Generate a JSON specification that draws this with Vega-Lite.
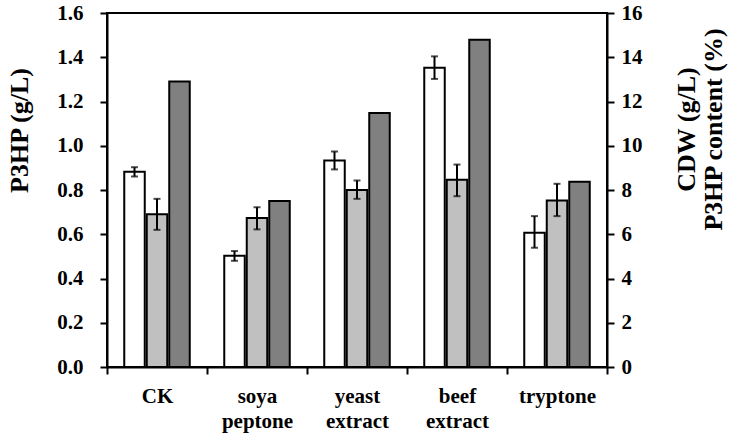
{
  "$schema": "https://vega.github.io/schema/vega-lite/v6.json",
  "autosize": {"type": "none"},
  "padding": {"left": 107, "top": 13, "right": 126, "bottom": 73},
  "width": 500,
  "height": 354,
  "background": "white",
  "data": {
    "values": [
      {"cat": "CK", "series": "P3HP", "value": 0.882, "lo": 0.861, "hi": 0.903},
      {"cat": "CK", "series": "CDW", "value": 6.9, "lo": 6.2, "hi": 7.6},
      {"cat": "CK", "series": "content", "value": 12.9},
      {"cat": "soya peptone", "series": "P3HP", "value": 0.503, "lo": 0.48, "hi": 0.524},
      {"cat": "soya peptone", "series": "CDW", "value": 6.73, "lo": 6.22, "hi": 7.22},
      {"cat": "soya peptone", "series": "content", "value": 7.5},
      {"cat": "yeast extract", "series": "P3HP", "value": 0.933, "lo": 0.893, "hi": 0.974},
      {"cat": "yeast extract", "series": "CDW", "value": 8.0, "lo": 7.6, "hi": 8.43},
      {"cat": "yeast extract", "series": "content", "value": 11.48},
      {"cat": "beef extract", "series": "P3HP", "value": 1.352, "lo": 1.302, "hi": 1.404},
      {"cat": "beef extract", "series": "CDW", "value": 8.46, "lo": 7.72, "hi": 9.15},
      {"cat": "beef extract", "series": "content", "value": 14.79},
      {"cat": "tryptone", "series": "P3HP", "value": 0.607, "lo": 0.539, "hi": 0.682},
      {"cat": "tryptone", "series": "CDW", "value": 7.53, "lo": 6.82, "hi": 8.28},
      {"cat": "tryptone", "series": "content", "value": 8.37}
    ]
  },
  "encoding": {
    "x": {
      "field": "cat", "type": "nominal",
      "sort": ["CK", "soya peptone", "yeast extract", "beef extract", "tryptone"],
      "scale": {"paddingInner": 0, "paddingOuter": 0},
      "axis": {
        "title": null, "labelAngle": 0, "tickBand": "extent", "tickSize": 7,
        "labelPadding": 11, "labelLineHeight": 25, "labelBaseline": "top",
        "labelExpr": "split(datum.label, ' ')"
      }
    },
    "xOffset": {
      "field": "series", "type": "nominal",
      "scale": {"domain": ["P3HP", "CDW", "content"], "paddingInner": 0.089, "paddingOuter": 0.767}
    }
  },
  "layer": [
    {
      "transform": [{"filter": "datum.series == 'P3HP'"}],
      "layer": [
        {
          "mark": {"type": "bar", "stroke": "black", "strokeWidth": 2},
          "encoding": {
            "y": {
              "field": "value", "type": "quantitative",
              "scale": {"domain": [0, 1.6], "nice": false, "zero": true},
              "axis": {
                "orient": "left", "title": "P3HP (g/L)",
                "values": [0, 0.1, 0.2, 0.3, 0.4, 0.5, 0.6, 0.7, 0.8, 0.9, 1.0, 1.1, 1.2, 1.3, 1.4, 1.5, 1.6],
                "labelExpr": "round(datum.value * 10) % 2 == 0 ? format(datum.value, '.1f') : ''",
                "tickSize": 7, "labelPadding": 17,
                "titleAngle": -90, "titleX": -80, "titleY": 117, "titleAlign": "center", "titleBaseline": "alphabetic",
                "titleFontSize": 26
              }
            },
            "fill": {
              "field": "series", "type": "nominal",
              "scale": {"domain": ["P3HP", "CDW", "content"], "range": ["#ffffff", "#c0c0c0", "#808080"]},
              "legend": null
            }
          }
        },
        {
          "mark": {"type": "rule", "color": "black", "strokeWidth": 2},
          "encoding": {
            "y": {"field": "lo", "type": "quantitative"},
            "y2": {"field": "hi"}
          }
        },
        {
          "mark": {"type": "tick", "color": "black", "thickness": 2, "size": 7},
          "encoding": {"y": {"field": "lo", "type": "quantitative"}}
        },
        {
          "mark": {"type": "tick", "color": "black", "thickness": 2, "size": 7},
          "encoding": {"y": {"field": "hi", "type": "quantitative"}}
        }
      ]
    },
    {
      "transform": [{"filter": "datum.series != 'P3HP'"}],
      "layer": [
        {
          "mark": {"type": "bar", "stroke": "black", "strokeWidth": 2},
          "encoding": {
            "y": {
              "field": "value", "type": "quantitative",
              "scale": {"domain": [0, 16], "nice": false, "zero": true},
              "axis": {
                "orient": "right", "title": ["CDW (g/L)", "P3HP content (%)"],
                "values": [0, 2, 4, 6, 8, 10, 12, 14, 16], "format": "d",
                "tickSize": 7, "labelPadding": 7,
                "titleAngle": -90, "titleX": 87, "titleY": 116, "titleAlign": "center", "titleBaseline": "alphabetic",
                "titleLineHeight": 27, "titleFontSize": 26
              }
            },
            "fill": {
              "field": "series", "type": "nominal",
              "scale": {"domain": ["P3HP", "CDW", "content"], "range": ["#ffffff", "#c0c0c0", "#808080"]},
              "legend": null
            }
          }
        },
        {
          "transform": [{"filter": "isValid(datum.lo)"}],
          "mark": {"type": "rule", "color": "black", "strokeWidth": 2},
          "encoding": {
            "y": {"field": "lo", "type": "quantitative"},
            "y2": {"field": "hi"}
          }
        },
        {
          "transform": [{"filter": "isValid(datum.lo)"}],
          "mark": {"type": "tick", "color": "black", "thickness": 2, "size": 7},
          "encoding": {"y": {"field": "lo", "type": "quantitative"}}
        },
        {
          "transform": [{"filter": "isValid(datum.hi)"}],
          "mark": {"type": "tick", "color": "black", "thickness": 2, "size": 7},
          "encoding": {"y": {"field": "hi", "type": "quantitative"}}
        }
      ]
    }
  ],
  "resolve": {"scale": {"y": "independent"}},
  "config": {
    "font": "Liberation Serif",
    "view": {"stroke": "black", "strokeWidth": 2},
    "axis": {
      "grid": false,
      "domainColor": "black", "domainWidth": 2,
      "tickColor": "black", "tickWidth": 2,
      "labelFont": "Liberation Serif", "labelFontWeight": "bold", "labelFontSize": 21, "labelColor": "black",
      "titleFont": "Liberation Serif", "titleFontWeight": "bold", "titleColor": "black"
    },
    "axisY": {"titleFontSize": 26}
  }
}
